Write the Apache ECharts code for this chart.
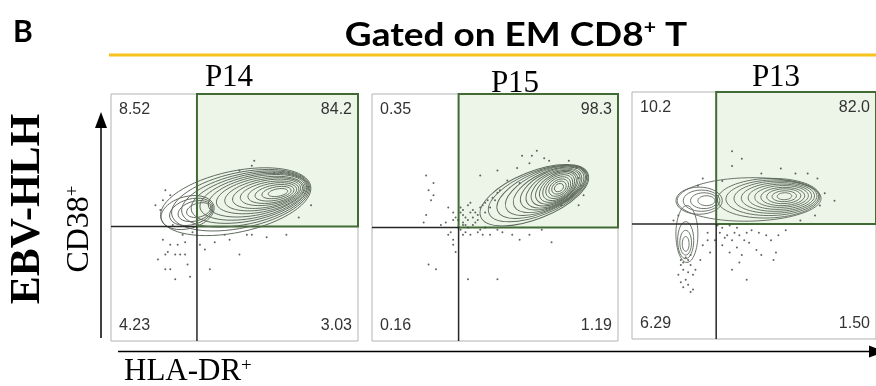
<!DOCTYPE html>
<html>
<head>
<meta charset="utf-8">
<script src="https://cdn.jsdelivr.net/npm/echarts@6/dist/echarts.min.js"></script>
<style>
  html, body { margin: 0; padding: 0; background: #fff; }
  #chart { width: 876px; height: 386px; }
</style>
</head>
<body>
<div id="chart"></div>
<script>
// flow plots, EM CD8+ T, three patients
var panelNames = ['P14', 'P15', 'P13'];
var quadrantUL = ['8.52', '0.35', '10.2'];
var quadrantUR = ['84.2', '98.3', '82.0'];
var quadrantLL = ['4.23', '0.16', '6.29'];
var quadrantLR = ['3.03', '1.19', '1.50'];
// quadrant gate (HLA-DR, CD38), 0-100 display scale
var gateX = [34.8, 35.2, 34.5];
var gateY = [46.4, 46.0, 46.6];

// contour levels: [cx, cy, rx, ry, tilt deg]
var contoursP14 = [
    [50.5, 56.4, 31, 12.4, 12], [52.5, 57, 28.5, 11.2, 12], [54.3, 57.5, 26.2, 10.2, 12],
    [56, 58, 24, 9.3, 12], [57.6, 58.4, 22, 8.5, 12], [59, 58.8, 20, 7.7, 12],
    [60.4, 59.1, 18, 6.9, 11], [61.8, 59.4, 16, 6.1, 11], [63, 59.6, 14, 5.4, 11],
    [64.2, 59.8, 12, 4.6, 10], [65.3, 59.9, 10, 3.9, 10], [66.2, 60, 8, 3.1, 10],
    [67, 60.1, 6, 2.3, 10], [67.6, 60.1, 4, 1.5, 10],
    [31, 52, 11, 6.5, 15], [32.5, 52.3, 9, 5.2, 15], [34, 52.6, 7, 4, 15], [35.5, 53, 5, 2.8, 15]
];
var contoursP15 = [
    [66, 59, 23.5, 9.5, 22], [67.5, 59.7, 21.5, 8.8, 22], [69, 60.3, 19.5, 8.2, 23],
    [70.5, 60.8, 17.5, 7.7, 24], [71.8, 61.2, 15.5, 7.2, 25], [72.8, 61.5, 13.5, 6.8, 26],
    [73.6, 61.7, 12, 6.3, 28], [74.2, 61.9, 10.5, 5.8, 30], [74.8, 62, 9.2, 5.3, 32],
    [75.2, 62.1, 8, 4.8, 34], [75.5, 62.1, 6.8, 4.3, 35], [75.7, 62.1, 5.6, 3.7, 35],
    [75.9, 62.1, 4.4, 3, 35], [76, 62.1, 3.2, 2.3, 35], [76, 62.1, 2, 1.5, 35]
];
var contoursP13 = [
    [48, 56.5, 29.5, 8.8, 1],
    [56, 57, 21, 8, 2], [57.5, 57.2, 19, 7.2, 2], [58.8, 57.4, 17, 6.5, 2],
    [59.8, 57.5, 15, 5.8, 2], [60.6, 57.6, 13, 5.1, 2], [61.3, 57.7, 11, 4.4, 2],
    [61.8, 57.7, 9, 3.7, 2], [62.2, 57.8, 7, 3, 2], [62.4, 57.8, 5, 2.2, 2], [62.5, 57.8, 3, 1.4, 2],
    [27.5, 56, 9.5, 5.5, 0], [28.5, 56, 7.5, 4.3, 0], [29.5, 56, 5.5, 3.2, 0], [30.5, 56, 3.5, 2, 0],
    [22.5, 42.5, 4.5, 11.5, 0], [22, 40, 3.3, 7.5, 0], [22, 39, 2.4, 5, 0], [22, 38.5, 1.4, 3, 0]
];

// outlying events (dots)
var eventsP14 = [
    [22, 61], [24, 59], [20, 53], [21, 41], [24, 39], [23, 36], [22, 35], [19, 33], [26, 35],
    [28, 35], [30, 35], [22, 29], [24, 29], [26, 25], [32, 26], [31, 31], [38, 37], [40, 29],
    [52, 35], [55, 43], [57, 43], [71, 43], [58, 73], [57, 71], [46, 43], [36, 39], [27, 39],
    [29, 43], [81, 55], [52, 69], [18, 55], [21, 57], [25, 47], [42, 40], [48, 41], [63, 42],
    [76, 50], [66, 68], [33, 44], [30, 40]
];
var eventsP15 = [
    [22, 67], [25, 64], [23, 61], [25, 59], [24, 57], [22, 51], [31, 54], [33, 52], [33, 49],
    [30, 48], [21, 48], [28, 47], [36, 52], [37, 53], [39, 55], [40, 56], [37, 51], [35, 49],
    [37, 48], [39, 49], [41, 50], [43, 51], [41, 53], [44, 54], [45, 55], [47, 57], [49, 58],
    [51, 60], [52, 61], [37, 47], [39, 46], [41, 47], [44, 45], [36, 45], [37, 43], [40, 43],
    [43, 44], [45, 43], [48, 43], [51, 45], [53, 44], [57, 43], [60, 41], [64, 43], [69, 45],
    [73, 40], [32, 44], [31, 43], [33, 41], [33, 39], [34, 36], [26, 29], [23, 31], [39, 25],
    [51, 25], [44, 67], [51, 69], [55, 65], [59, 70], [64, 72], [67, 77], [65, 75], [72, 73],
    [80, 73], [83, 70], [84, 66], [85, 63], [86, 59], [84, 55], [77, 55], [60, 64], [61, 75],
    [70, 74], [38, 50], [42, 52], [46, 56], [48, 54], [36, 54], [38, 47], [42, 48], [35, 46],
    [40, 52], [43, 49], [46, 52], [50, 57], [34, 50], [38, 44], [46, 46]
];
var eventsP13 = [
    [20, 32], [21, 31], [23, 32], [24, 30], [21, 28], [23, 27], [25, 26], [22, 24], [20, 23],
    [23, 22], [21, 21], [25, 20], [24, 19], [19, 26], [26, 28], [35, 46], [37, 45], [40, 46],
    [43, 45], [36, 43], [39, 42], [41, 40], [44, 42], [47, 43], [49, 44], [52, 43], [55, 42],
    [57, 40], [60, 42], [63, 44], [37, 38], [40, 35], [43, 37], [45, 34], [48, 39], [51, 36],
    [53, 34], [44, 31], [41, 28], [47, 24], [59, 35], [58, 32], [31, 43], [29, 38], [32, 35],
    [28, 32], [31, 40], [41, 76], [45, 73], [41, 70], [53, 67], [61, 69], [67, 67], [72, 67],
    [76, 65], [79, 59], [83, 56], [77, 54], [75, 50], [69, 48], [37, 64], [29, 65], [27, 62],
    [19, 50], [17, 48], [24, 34], [22, 33], [20, 30], [38, 41], [42, 43], [34, 40], [46, 40]
];

var contours = [contoursP14, contoursP15, contoursP13];
var events = [eventsP14, eventsP15, eventsP13];

var serif = '"Liberation Serif", "Times New Roman", serif';
var sans = '"Liberation Sans", Arial, sans-serif';

var grids = [
    { left: 111, top: 94, width: 247, height: 247 },
    { left: 372, top: 94, width: 246, height: 247 },
    { left: 632, top: 92, width: 247, height: 247 }
];

var chart = echarts.init(document.getElementById('chart'), null, { renderer: 'canvas' });

var xAxes = [], yAxes = [], series = [];
for (var i = 0; i < 3; i++) {
    grids[i].show = true;
    grids[i].borderColor = '#b3b3b3';
    grids[i].borderWidth = 1;
    grids[i].backgroundColor = '#fff';
    xAxes.push({ type: 'value', gridIndex: i, min: 0, max: 100, show: false });
    yAxes.push({ type: 'value', gridIndex: i, min: 0, max: 100, show: false });

    // gated quadrant (green box)
    series.push({
        type: 'custom', xAxisIndex: i, yAxisIndex: i, silent: true, z: 1,
        data: [[gateX[i], gateY[i]]],
        renderItem: function (params, api) {
            var p0 = api.coord([api.value(0), api.value(1)]);
            var p1 = api.coord([100, 100]);
            return {
                type: 'rect',
                shape: { x: p0[0], y: p1[1], width: p1[0] - p0[0], height: p0[1] - p1[1] },
                style: { fill: '#edf5e9', stroke: '#406b34', lineWidth: 2 }
            };
        }
    });

    series.push({
        type: 'scatter', xAxisIndex: i, yAxisIndex: i, silent: true, z: 2,
        data: events[i], symbolSize: 2,
        itemStyle: { color: '#3c3c3c', opacity: 0.8 }
    });

    series.push({
        type: 'custom', xAxisIndex: i, yAxisIndex: i, silent: true, z: 3,
        data: contours[i],
        renderItem: function (params, api) {
            var c = api.coord([api.value(0), api.value(1)]);
            var s = api.size([api.value(2), api.value(3)]);
            return {
                type: 'ellipse',
                x: c[0], y: c[1],
                rotation: api.value(4) * Math.PI / 180,
                shape: { cx: 0, cy: 0, rx: s[0], ry: s[1] },
                style: { fill: 'none', stroke: '#5d685a', lineWidth: 0.9 }
            };
        }
    });

    // quadrant lines
    series.push({
        type: 'custom', xAxisIndex: i, yAxisIndex: i, silent: true, z: 4,
        data: [[gateX[i], gateY[i]]],
        renderItem: function (params, api) {
            var p = api.coord([api.value(0), api.value(1)]);
            var l = api.coord([0, 0]);
            return {
                type: 'group',
                children: [
                    { type: 'line', shape: { x1: l[0], y1: p[1], x2: p[0], y2: p[1] },
                      style: { stroke: '#262626', lineWidth: 1.5 } },
                    { type: 'line', shape: { x1: p[0], y1: p[1], x2: p[0], y2: l[1] },
                      style: { stroke: '#262626', lineWidth: 1.5 } }
                ]
            };
        }
    });

    // quadrant frequencies
    (function (k) {
        var texts = [quadrantUL[k], quadrantUR[k], quadrantLL[k], quadrantLR[k]];
        series.push({
            type: 'custom', xAxisIndex: k, yAxisIndex: k, silent: true, z: 5,
            data: [[0, 100], [100, 100], [0, 0], [100, 0]],
            renderItem: function (params, api) {
                var q = params.dataIndex;
                var p = api.coord([api.value(0), api.value(1)]);
                var right = q % 2 === 1, top = q < 2;
                return {
                    type: 'text',
                    x: p[0] + (right ? -6 : 8),
                    y: p[1] + (top ? 8 : -7),
                    style: {
                        text: texts[q], font: '16px ' + sans, fill: '#333',
                        align: right ? 'right' : 'left', verticalAlign: top ? 'top' : 'bottom'
                    }
                };
            }
        });
    })(i);
}

var panelLabelX = [229, 515, 776];
var panelLabelY = [78, 84, 78];
var graphics = [
    { type: 'text', x: 13, y: 32, z: 100, style: { text: 'B', font: 'bold 30px Lato', fill: '#000', align: 'left', verticalAlign: 'middle' } },
    { type: 'text', x: 516, y: 35, scaleX: 1.12, z: 100,
      style: { text: '{a|Gated on EM CD8}{s|+}{a| T}', align: 'center', verticalAlign: 'middle',
               rich: { a: { font: 'bold 33px Lato', fill: '#000' },
                       s: { font: 'bold 19px Lato', fill: '#000', verticalAlign: 'top' } } } },
    { type: 'line', z: 100, shape: { x1: 109, y1: 55, x2: 876, y2: 55 }, style: { stroke: '#f6c21c', lineWidth: 3 } },
    // y arrow
    { type: 'line', z: 100, shape: { x1: 101, y1: 338, x2: 101, y2: 124 }, style: { stroke: '#000', lineWidth: 1.5 } },
    { type: 'polygon', z: 100, shape: { points: [[95, 128], [107, 128], [101, 112]] }, style: { fill: '#000' } },
    // x arrow
    { type: 'line', z: 100, shape: { x1: 118, y1: 351.5, x2: 872, y2: 351.5 }, style: { stroke: '#000', lineWidth: 1.5 } },
    { type: 'polygon', z: 100, shape: { points: [[869, 345.5], [869, 357.5], [885, 351.5]] }, style: { fill: '#000' } },
    { type: 'text', x: 124, y: 372, z: 100,
      style: { text: '{a|HLA-DR}{s|+}', align: 'left', verticalAlign: 'middle',
               rich: { a: { font: '31px ' + serif, fill: '#000' }, s: { font: '19px ' + serif, fill: '#000', verticalAlign: 'top' } } } },
    { type: 'text', x: 80, y: 229, rotation: Math.PI / 2, z: 100,
      style: { text: '{a|CD38}{s|+}', align: 'center', verticalAlign: 'middle',
               rich: { a: { font: '32px ' + serif, fill: '#000' }, s: { font: '19px ' + serif, fill: '#000', verticalAlign: 'top' } } } },
    { type: 'text', x: 28, y: 209, rotation: Math.PI / 2, z: 100,
      style: { text: 'EBV-HLH', font: 'bold 42px ' + serif, fill: '#000', align: 'center', verticalAlign: 'middle' } }
];
for (var j = 0; j < panelNames.length; j++) {
    graphics.push({
        type: 'text', x: panelLabelX[j], y: panelLabelY[j], z: 100,
        style: { text: panelNames[j], font: '31px ' + serif, fill: '#000', align: 'center', verticalAlign: 'middle' }
    });
}

chart.setOption({
    animation: false,
    backgroundColor: '#fff',
    grid: grids,
    xAxis: xAxes,
    yAxis: yAxes,
    series: series,
    graphic: { elements: graphics }
});
</script>
</body>
</html>
